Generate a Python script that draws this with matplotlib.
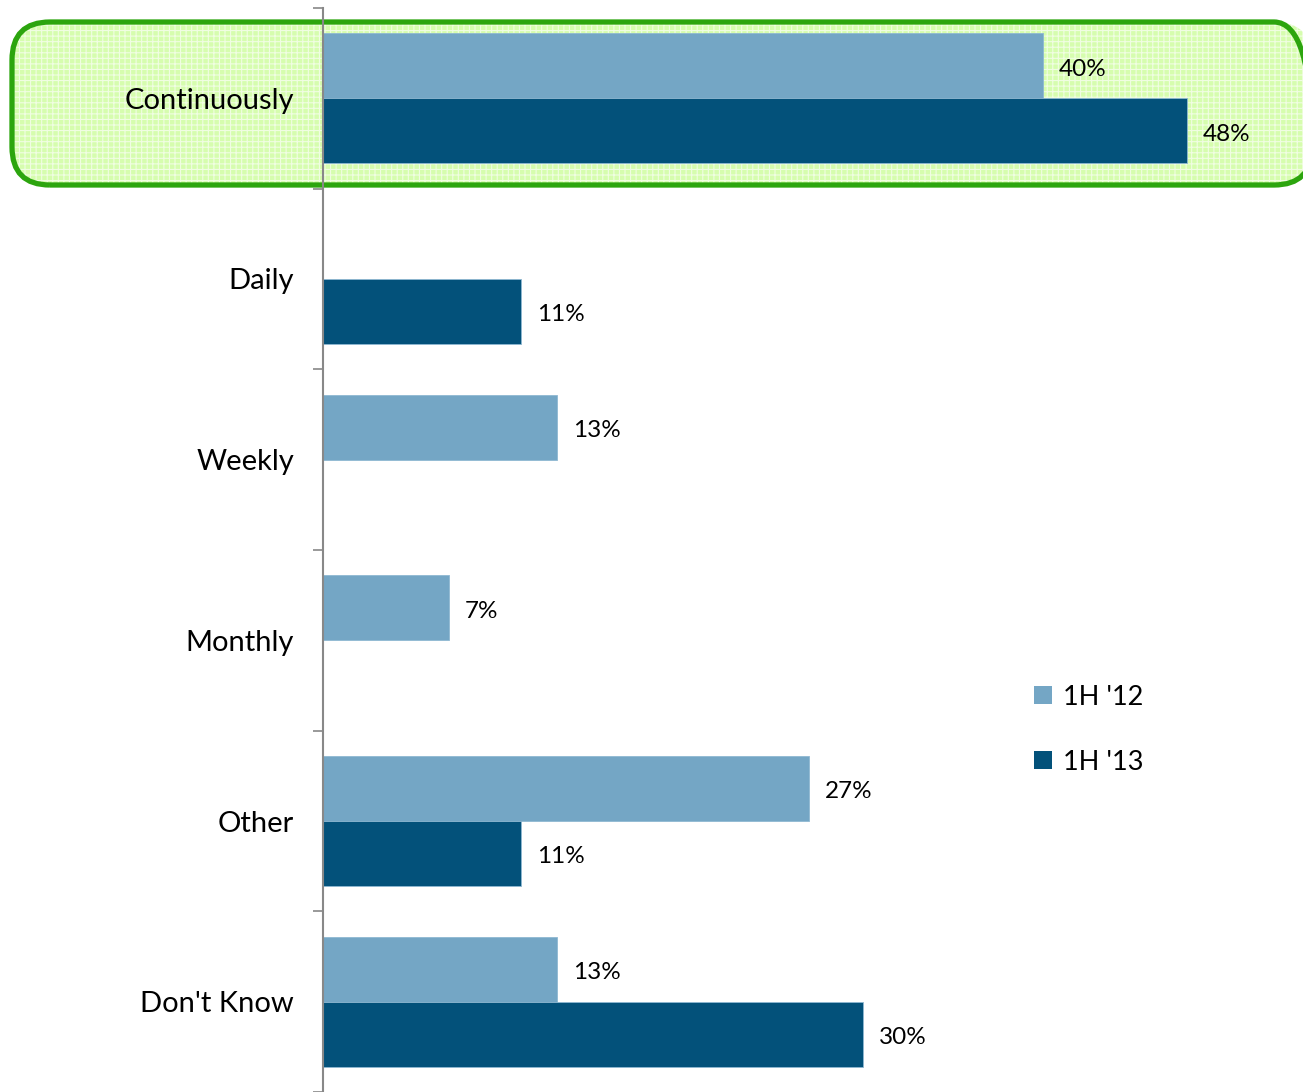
import matplotlib
matplotlib.use("Agg")
import matplotlib.pyplot as plt
import numpy as np
from matplotlib.patches import FancyBboxPatch, Patch

plt.rcParams['font.family'] = ['Lato', 'DejaVu Sans']
plt.rcParams['hatch.linewidth'] = 0.8

# Survey answers and the share of respondents per half-year
categories = ["Continuously", "Daily", "Weekly", "Monthly", "Other", "Don't Know"]
series_names = ["1H '12", "1H '13"]
values_12 = [40, None, 13, 7, 27, 13]
values_13 = [48, 11, None, None, 11, 30]
colors = ["#74a6c5", "#03517a"]

W, H, DPI = 1303, 1092, 100
fig = plt.figure(figsize=(W / DPI, H / DPI), dpi=DPI)

ax_left, ax_top, ax_bottom = 323, 8, 1092
ax = fig.add_axes([ax_left / W, 1 - ax_bottom / H, (W - ax_left) / W, (ax_bottom - ax_top) / H])
ax.patch.set_alpha(0)
ax.set_zorder(2)

# Highlight band behind the first category
hl = dict(boxstyle="round,pad=0,rounding_size=38", mutation_aspect=1)
x0, y0, x1, y1 = 12, 22, 1312, 185
fill = FancyBboxPatch((x0, H - y1), x1 - x0, y1 - y0, transform=None,
                      facecolor="#d6fdae", edgecolor="#f0fde2", hatch="+++",
                      linewidth=0, zorder=0, **hl)
border = FancyBboxPatch((x0, H - y1), x1 - x0, y1 - y0, transform=None,
                        facecolor="none", edgecolor="#2ca50e", linewidth=3.8,
                        zorder=0.5, **hl)
fig.patches.extend([fill, border])

y = np.arange(len(categories))
h = 0.36
for vals, off, col in [(values_12, -h / 2, colors[0]), (values_13, h / 2, colors[1])]:
    for yi, v in zip(y, vals):
        if v is None:
            continue
        ax.barh(yi + off, v, height=h, color=col, edgecolor="#8fb8d2", linewidth=0.6, zorder=2)
        ax.text(v + 0.9, yi + off + 0.018, f"{v}%", va="center", ha="left",
                fontsize=17.5, color="black", zorder=3)

ax.set_ylim(len(categories) - 0.5, -0.5)
ax.set_xlim(0, (W - ax_left) / 18.0)

ax.set_yticks(y)
ax.set_yticklabels(categories, fontsize=21)
ax.set_yticks(np.arange(-0.5, len(categories) + 0.5, 1), minor=True)
ax.tick_params(axis='y', which='major', length=0, pad=21)
ax.tick_params(axis='y', which='minor', length=7, width=1.2, color="#888888", direction='out')
ax.set_xticks([])

for s in ["top", "right", "bottom"]:
    ax.spines[s].set_visible(False)
ax.spines["left"].set_color("#888888")
ax.spines["left"].set_linewidth(1.5)
ax.spines["left"].set_zorder(4)

handles = [Patch(facecolor=c, edgecolor='none') for c in colors]
leg = fig.legend(handles, series_names, loc="upper left",
                 bbox_to_anchor=(1020 / W, 1 - 671 / H), frameon=False,
                 fontsize=19.5, handlelength=0.68, handleheight=0.68,
                 handletextpad=0.4, labelspacing=1.48, borderpad=0)
leg.set_zorder(3)

fig.savefig("out.png", dpi=DPI)
